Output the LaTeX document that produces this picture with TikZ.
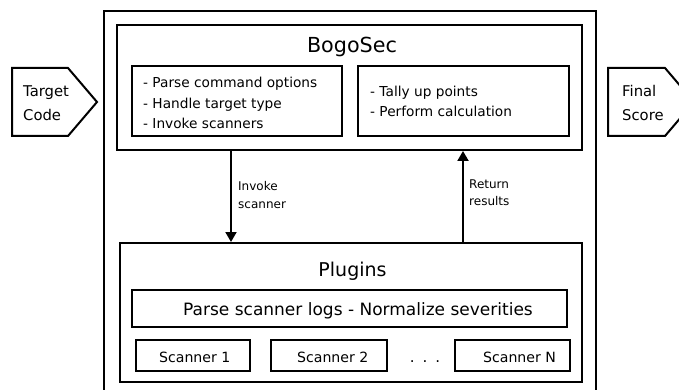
\documentclass[tikz,border=0pt]{standalone}
\usepackage{fontspec}
\setmainfont{DejaVu Sans}
\usetikzlibrary{arrows.meta}
\tikzset{
  box/.style={draw, line width=2pt, rectangle, inner sep=0pt},
  txt/.style={anchor=base west, inner sep=0pt, font=\fontsize{13.7}{16}\selectfont},
  small/.style={anchor=base west, inner sep=0pt, font=\fontsize{12}{14}\selectfont},
  io/.style={anchor=base west, inner sep=0pt, font=\fontsize{14.8}{17}\selectfont},
  arr/.style={line width=2pt, -{Triangle[width=11pt,length=10pt]}},
}
\begin{document}
\begin{tikzpicture}[x=1pt,y=-1pt]
\useasboundingbox (0,0) rectangle (679,390);
\begin{scope}
\clip (0,0) rectangle (679,390);
% outer box
\node[box, minimum width=492pt, minimum height=389pt] (sys) at (350,205.5) {};
% input / output shapes
\draw[line width=2pt] (12,68) -- (68,68) -- (97,102) -- (68,136) -- (12,136) -- cycle;
\draw[line width=2pt] (608,68) -- (665,68) -- (694,102) -- (665,136) -- (608,136) -- cycle;
\end{scope}
\node[io] (tc1) at (23,97) {Target};
\node[io] (tc2) at (23,121) {Code};
\node[io] (fs1) at (622,97) {Final};
\node[io] (fs2) at (622,121) {Score};
% BogoSec
\node[box, minimum width=465pt, minimum height=125pt] (bogo) at (349.5,87.5) {};
\node[anchor=base, inner sep=0pt, font=\fontsize{20.7}{24}\selectfont] (bogot) at (352,53) {BogoSec};
\node[box, minimum width=210pt, minimum height=70pt] (left) at (237,101) {};
\node[box, minimum width=211pt, minimum height=70pt] (right) at (463.5,101) {};
\node[txt] (l1) at (143,88) {- Parse command options};
\node[txt] (l2) at (143,108.5) {- Handle target type};
\node[txt] (l3) at (143,129) {- Invoke scanners};
\node[txt] (r1) at (370,97) {- Tally up points};
\node[txt] (r2) at (370,117) {- Perform calculation};
% Plugins
\node[box, minimum width=462pt, minimum height=139pt] (plug) at (351,312.5) {};
\node[anchor=base, inner sep=0pt, font=\fontsize{19}{22}\selectfont] (plugt) at (352.5,276) {Plugins};
\node[box, minimum width=435pt, minimum height=37pt] (parse) at (349.5,308.5) {};
\node[anchor=base west, inner sep=0pt, font=\fontsize{17}{20}\selectfont] (parset) at (183,315) {Parse scanner logs - Normalize severities};
\node[box, minimum width=114pt, minimum height=31pt] (s1) at (193,355.5) {};
\node[box, minimum width=116pt, minimum height=31pt] (s2) at (329,355.5) {};
\node[box, minimum width=115pt, minimum height=31pt] (sn) at (512.5,355.5) {};
\node[txt, font=\fontsize{14.1}{16}\selectfont] (s1t) at (159,362) {Scanner 1};
\node[txt, font=\fontsize{14.1}{16}\selectfont] (s2t) at (297,362) {Scanner 2};
\node[txt, font=\fontsize{14.1}{16}\selectfont] (snt) at (483,362) {Scanner N};
\node[anchor=base, inner sep=0pt, font=\fontsize{15}{16}\selectfont] (dots) at (425,362) {.\hspace{8pt}.\hspace{8pt}.};
% arrows
\coordinate (xin) at (231,0);
\coordinate (xout) at (463,0);
\draw[arr] (bogo.south -| xin) -- (plug.north -| xin);
\draw[arr] (plug.north -| xout) -- (bogo.south -| xout);
\node[small] (inv1) at (238,190.5) {Invoke};
\node[small] (inv2) at (238,208) {scanner};
\node[small] (ret1) at (469,188) {Return};
\node[small] (ret2) at (469,205.5) {results};
\end{tikzpicture}
\end{document}
